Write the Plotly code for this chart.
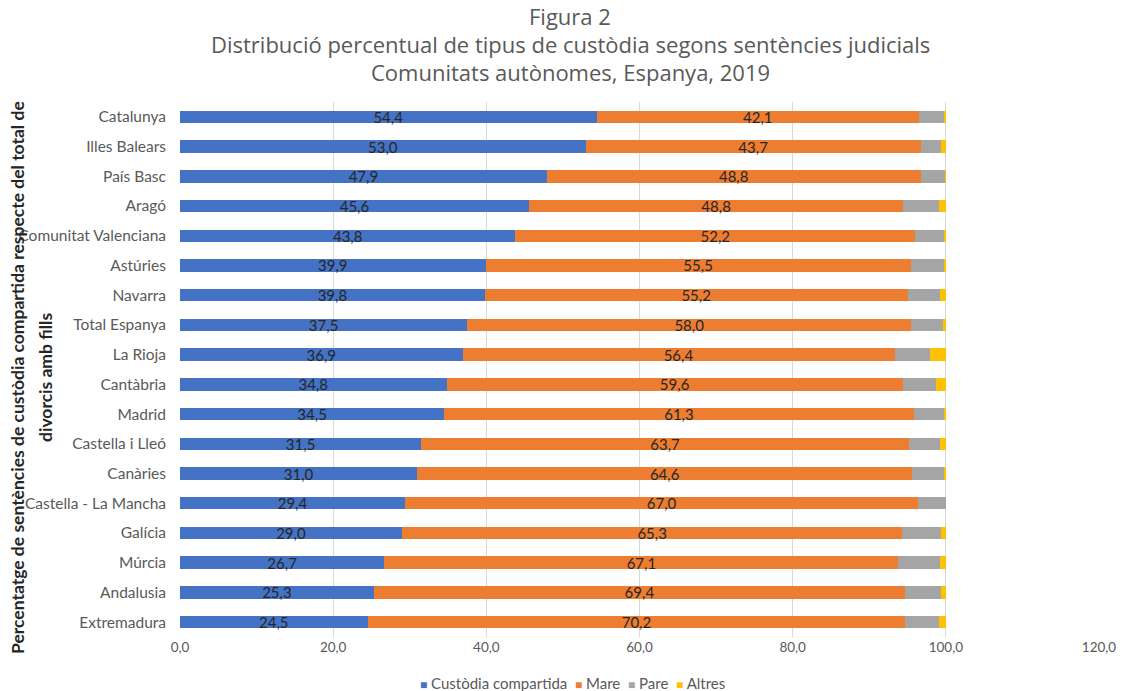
import plotly.graph_objects as go

regions = ["Catalunya", "Illes Balears", "País Basc", "Aragó", "Comunitat Valenciana",
           "Astúries", "Navarra", "Total Espanya", "La Rioja", "Cantàbria", "Madrid",
           "Castella i Lleó", "Canàries", "Castella - La Mancha", "Galícia", "Múrcia",
           "Andalusia", "Extremadura"]
compartida = [54.4, 53.0, 47.9, 45.6, 43.8, 39.9, 39.8, 37.5, 36.9, 34.8, 34.5,
              31.5, 31.0, 29.4, 29.0, 26.7, 25.3, 24.5]
mare = [42.1, 43.7, 48.8, 48.8, 52.2, 55.5, 55.2, 58.0, 56.4, 59.6, 61.3,
        63.7, 64.6, 67.0, 65.3, 67.1, 69.4, 70.2]
pare = [3.3, 2.7, 3.2, 4.7, 3.7, 4.3, 4.3, 4.1, 4.6, 4.3, 3.9,
        4.1, 4.1, 3.6, 5.1, 5.5, 4.7, 4.4]
altres = [0.2, 0.6, 0.1, 0.9, 0.3, 0.3, 0.7, 0.4, 2.1, 1.3, 0.3,
          0.7, 0.3, 0.0, 0.6, 0.7, 0.6, 0.9]
x_ticks = [0, 20, 40, 60, 80, 100, 120]
title_lines = ["Figura 2",
               "Distribució percentual de tipus de custòdia segons sentències judicials",
               "Comunitats autònomes, Espanya, 2019"]
ytitle_lines = ["Percentatge de sentències de custòdia compartida respecte del total de",
                "divorcis amb fills"]

FONT = "Lato"
TFONT = "Open Sans"
OFF = 0  # body margin removed via post_script
W, H = 1123, 691
# desired plot area in screen pixels: x 180..1099, y 102..637
ML, MT = 180 - OFF, 102 - OFF
PW, PH = 919, 535
MR = W - ML - PW
MB = H - MT - PH

def px_x(p):
    return (p - OFF - ML) / PW

def px_y(p):
    return 1 - (p - OFF - MT) / PH

fig = go.Figure()
series = [("Custòdia compartida", compartida, "#4472C4", True),
          ("Mare", mare, "#ED7D31", True),
          ("Pare", pare, "#A5A5A5", False),
          ("Altres", altres, "#FFC000", False)]
for name, vals, col, lab in series:
    fig.add_trace(go.Bar(
        y=regions, x=vals, name=name, orientation="h",
        marker=dict(color=col, line=dict(width=0)),
        texttemplate="%{x:.1f}" if lab else None,
        textposition="inside" if lab else "none",
        insidetextanchor="middle",
        textfont=dict(color="#262626", size=15, family=FONT),
        hoverinfo="x+y+name",
        showlegend=False,
    ))

annotations = []
for text, ypx in zip(title_lines, [16, 44, 72]):
    annotations.append(dict(text=text, xref="paper", yref="paper",
                            x=px_x(570), y=px_y(ypx), xanchor="center", yanchor="middle",
                            showarrow=False, font=dict(size=22, color="#595959", family=TFONT)))
for text, xpx in zip(ytitle_lines, [17, 45]):
    annotations.append(dict(text="<b>" + text + "</b>", xref="paper", yref="paper",
                            x=px_x(xpx), y=px_y(378), xanchor="center", yanchor="middle",
                            textangle=-90, showarrow=False,
                            font=dict(size=17.5, color="#262626", family=FONT)))
legend_parts = []
for name, vals, col, lab in series:
    legend_parts.append(f"<span style='color:{col};font-size:12px'>■</span> {name}")
annotations.append(dict(text="  ".join(legend_parts), xref="paper", yref="paper",
                        x=px_x(572), y=px_y(683), xanchor="center", yanchor="middle",
                        showarrow=False, font=dict(size=15, color="#595959", family=FONT)))

fig.update_layout(
    barmode="stack",
    bargap=0.58,
    width=W, height=H,
    margin=dict(l=ML, r=MR, t=MT, b=MB, autoexpand=False),
    paper_bgcolor="white", plot_bgcolor="white",
    separators=",.",
    font=dict(family=FONT, color="#595959", size=12),
    uniformtext=dict(minsize=8, mode="show"),
    showlegend=False,
    xaxis=dict(range=[0, 120], tickvals=x_ticks, tickformat=".1f",
               showgrid=True, gridcolor="#D9D9D9", gridwidth=1,
               zeroline=False, showline=False, ticks="", automargin=False,
               tickfont=dict(size=13.5, color="#595959")),
    yaxis=dict(categoryorder="array", categoryarray=regions[::-1],
               autorange=True, showgrid=False, showline=False, ticks="",
               ticklabelstandoff=13, automargin=False,
               tickfont=dict(size=15.5, color="#595959")),
    annotations=annotations,
)

fig.write_html("out.html", config={"displayModeBar": False},
               post_script="document.body.style.margin='0';")
